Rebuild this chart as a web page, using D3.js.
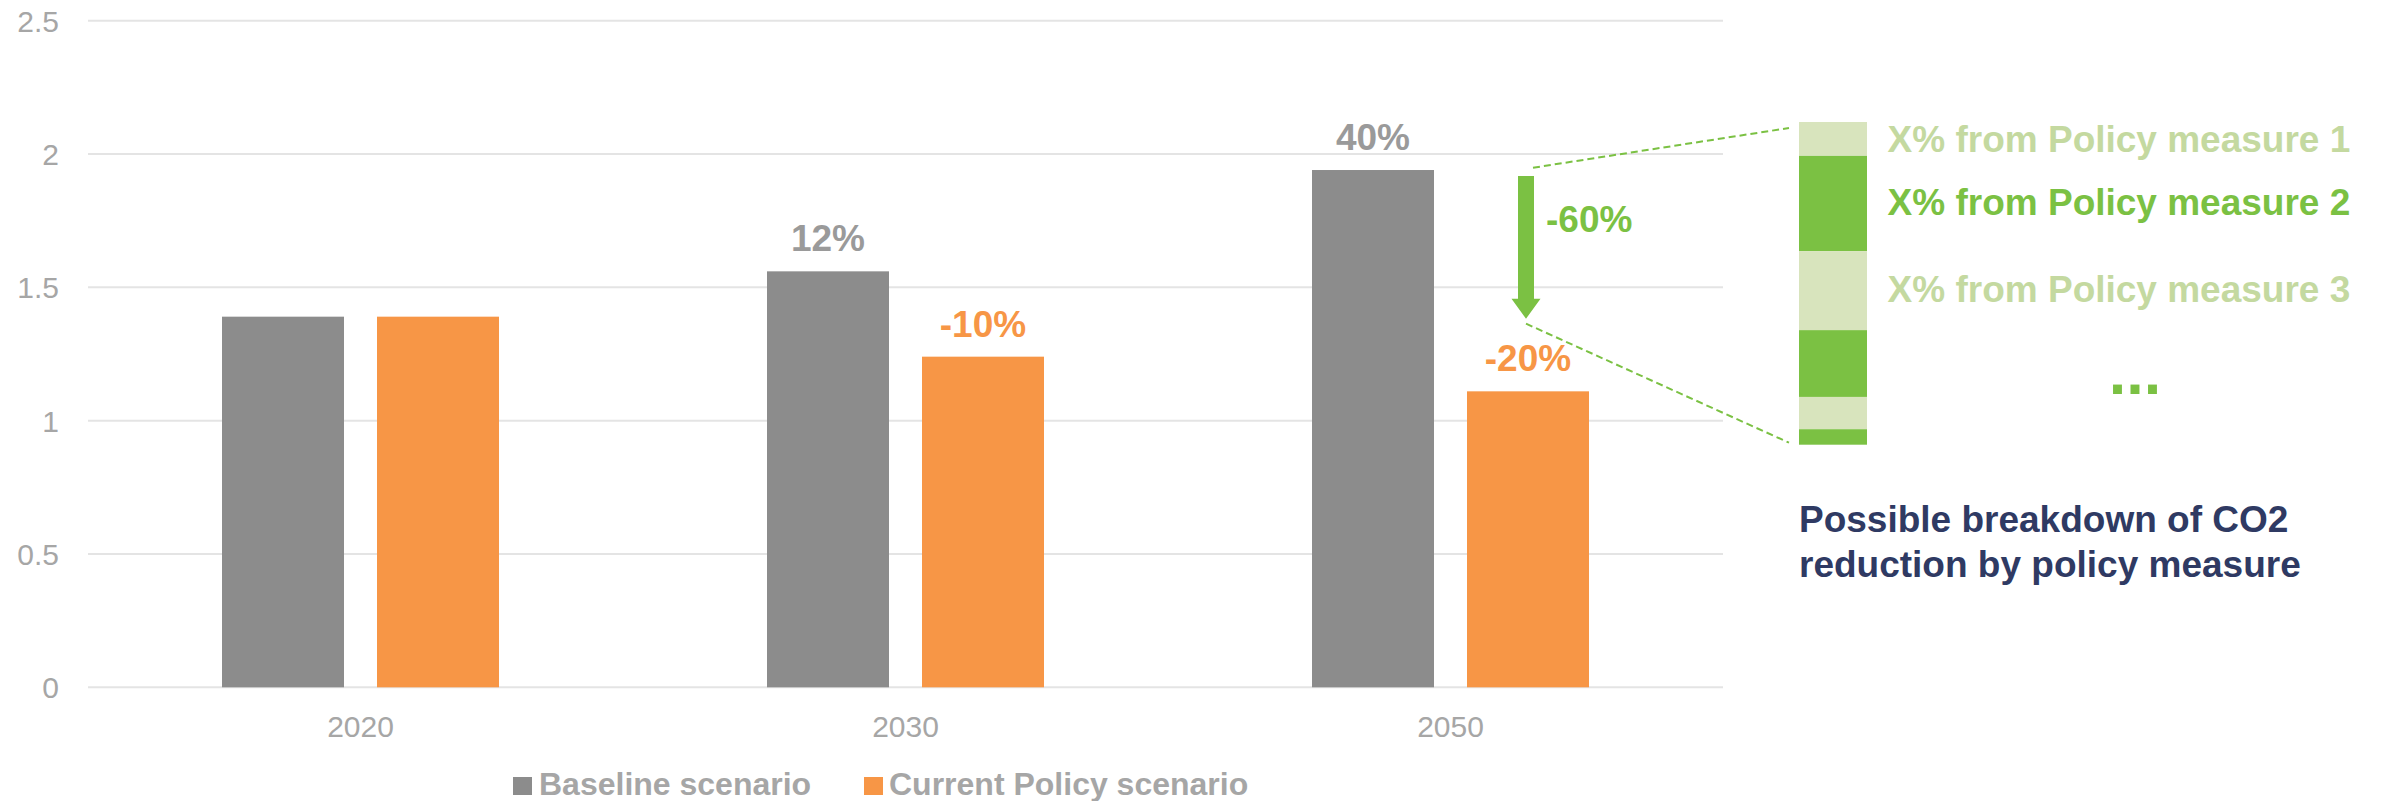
<!DOCTYPE html>
<html>
<head>
<meta charset="utf-8">
<script src="https://cdn.jsdelivr.net/npm/d3@7"></script>
<style>
  html, body { margin: 0; padding: 0; background: #ffffff; }
  svg { display: block; font-family: "Liberation Sans", Arial, Helvetica, sans-serif; }
</style>
</head>
<body>
<svg id="chart" width="2384" height="801"></svg>
<script>
// Emission index by year and scenario
const years = ["2020", "2030", "2050"];
const seriesNames = ["Baseline scenario", "Current Policy scenario"];
const baselineValues = [1.39, 1.56, 1.94];
const policyValues = [1.39, 1.24, 1.11];
const baselineLabels = [null, "12%", "40%"];
const policyLabels = [null, "-10%", "-20%"];
const yTicks = [0, 0.5, 1, 1.5, 2, 2.5];

// Reduction arrow (2050): from baseline level down to today's level
const reductionFrom = 1.94;
const reductionTo = 1.39;
const reductionLabel = "-60%";

// Possible split of the reduction across policy measures (shares of the total)
const measureShares = [0.105, 0.295, 0.245, 0.207, 0.100, 0.048];
const measureShade = ["light", "dark", "light", "dark", "light", "dark"];
const measureLabels = ["X% from Policy measure 1", "X% from Policy measure 2", "X% from Policy measure 3"];
const noteLines = ["Possible breakdown of CO2", "reduction by policy measure"];

const GRAY = "#8c8c8c", ORANGE = "#f79646", GREEN = "#7bc143", LIGHTGREEN = "#d8e4bd";
const LIGHTTEXT = "#c4d9a0", AXISTEXT = "#a6a6a6", NAVY = "#2f3a63";

const svg = d3.select("#chart");

const x0 = d3.scaleBand().domain(years).range([88, 1723]).padding(0);
const groupW = 277;
const x1 = d3.scaleBand().domain(seriesNames).range([0, groupW]).paddingInner(33 / 155);
const y = d3.scaleLinear().domain([0, 2.5]).range([687.3, 20.7]);

// Horizontal gridlines
svg.append("g").selectAll("line").data(yTicks).join("line")
  .attr("x1", 88).attr("x2", 1723)
  .attr("y1", d => y(d)).attr("y2", d => y(d))
  .attr("stroke", "#e4e4e4").attr("stroke-width", 2);

// Y axis labels
const yAxis = d3.axisLeft(y).tickValues(yTicks).tickSize(0).tickPadding(0)
  .tickFormat(d => d3.format("~g")(d));
const yg = svg.append("g").attr("transform", "translate(59,0)").call(yAxis);
yg.select(".domain").remove();
yg.selectAll("text").attr("fill", AXISTEXT).style("font-size", "30px")
  .style("font-family", "\"Liberation Sans\", Arial, sans-serif").attr("dy", "0.35em");

// X axis labels
const xAxis = d3.axisBottom(x0).tickSize(0).tickPadding(0);
const xg = svg.append("g").attr("transform", "translate(0,737)").call(xAxis);
xg.select(".domain").remove();
xg.selectAll("text").attr("fill", AXISTEXT).style("font-size", "30px")
  .style("font-family", "\"Liberation Sans\", Arial, sans-serif").attr("dy", 0);

// Bars
const rows = years.map((yr, i) => ({
  year: yr,
  items: [
    { name: seriesNames[0], value: baselineValues[i], label: baselineLabels[i], color: GRAY, labelColor: "#9a9a9a" },
    { name: seriesNames[1], value: policyValues[i], label: policyLabels[i], color: ORANGE, labelColor: ORANGE }
  ]
}));

const groups = svg.append("g").selectAll("g").data(rows).join("g")
  .attr("transform", d => `translate(${x0(d.year) + x0.bandwidth() / 2 - groupW / 2},0)`);

groups.selectAll("rect").data(d => d.items).join("rect")
  .attr("x", d => x1(d.name))
  .attr("width", x1.bandwidth())
  .attr("y", d => y(d.value))
  .attr("height", d => y(0) - y(d.value))
  .attr("fill", d => d.color);

groups.selectAll("text.val").data(d => d.items.filter(e => e.label)).join("text")
  .attr("class", "val")
  .attr("x", d => x1(d.name) + x1.bandwidth() / 2)
  .attr("y", d => y(d.value) - 20)
  .attr("text-anchor", "middle")
  .attr("fill", d => d.labelColor)
  .style("font-size", "37px").style("font-weight", "bold")
  .text(d => d.label);

// Reduction arrow beside the 2050 bars
const arrowX = x0("2050") + x0.bandwidth() / 2 + groupW / 2 - 63;
const aTop = y(reductionFrom) + 6, aTip = y(reductionTo) + 2;
const shaft = 8, head = 14.5, headLen = 20;
svg.append("path")
  .attr("d", `M${arrowX - shaft},${aTop} L${arrowX + shaft},${aTop} L${arrowX + shaft},${aTip - headLen}
              L${arrowX + head},${aTip - headLen} L${arrowX},${aTip} L${arrowX - head},${aTip - headLen}
              L${arrowX - shaft},${aTip - headLen} Z`)
  .attr("fill", GREEN);
svg.append("text")
  .attr("x", arrowX + 20).attr("y", aTop + 56)
  .attr("fill", GREEN).style("font-size", "37px").style("font-weight", "bold")
  .text(reductionLabel);

// Breakdown column
const bx = 1799, bw = 68;
const by = d3.scaleLinear().domain([0, 1]).range([122, 444.7]);
const cum = d3.cumsum(measureShares);
const segs = measureShares.map((s, i) => ({ start: cum[i] - s, end: cum[i], shade: measureShade[i] }));
svg.append("g").selectAll("rect").data(segs).join("rect")
  .attr("x", bx).attr("width", bw)
  .attr("y", d => by(d.start))
  .attr("height", d => by(d.end) - by(d.start))
  .attr("fill", d => d.shade === "dark" ? GREEN : LIGHTGREEN);

// Dashed connectors from the arrow to the breakdown column
svg.append("line")
  .attr("x1", arrowX + 7).attr("y1", y(reductionFrom) - 2.3)
  .attr("x2", bx - 10).attr("y2", by(0) + 6)
  .attr("stroke", GREEN).attr("stroke-width", 2).attr("stroke-dasharray", "7,4");
svg.append("line")
  .attr("x1", arrowX).attr("y1", aTip + 5)
  .attr("x2", bx - 10).attr("y2", by(1) - 2)
  .attr("stroke", GREEN).attr("stroke-width", 2).attr("stroke-dasharray", "7,4");

// Measure labels
const labelBaselines = [152.3, 215, 301.7];
svg.append("g").selectAll("text").data(measureLabels).join("text")
  .attr("x", 1887.6).attr("y", (d, i) => labelBaselines[i])
  .attr("fill", (d, i) => i === 1 ? GREEN : LIGHTTEXT)
  .style("font-size", "37px").style("font-weight", "bold")
  .text(d => d);
svg.append("text")
  .attr("x", 2135).attr("y", 394).attr("text-anchor", "middle")
  .attr("fill", GREEN).style("font-size", "63px").style("font-weight", "bold")
  .text("...");

// Note under the breakdown
svg.append("g").selectAll("text").data(noteLines).join("text")
  .attr("x", 1799).attr("y", (d, i) => 531.7 + i * 45)
  .attr("fill", NAVY).style("font-size", "37px").style("font-weight", "bold")
  .text(d => d);

// Legend
const legendItems = [
  { name: seriesNames[0], color: GRAY, sx: 513, tx: 539 },
  { name: seriesNames[1], color: ORANGE, sx: 864, tx: 889 }
];
const lg = svg.append("g").selectAll("g").data(legendItems).join("g");
lg.append("rect").attr("x", d => d.sx).attr("y", 777).attr("width", 19).attr("height", 18)
  .attr("fill", d => d.color);
lg.append("text").attr("x", d => d.tx).attr("y", 795)
  .attr("fill", AXISTEXT).style("font-size", "32px").style("font-weight", "bold")
  .text(d => d.name);
</script>
</body>
</html>
